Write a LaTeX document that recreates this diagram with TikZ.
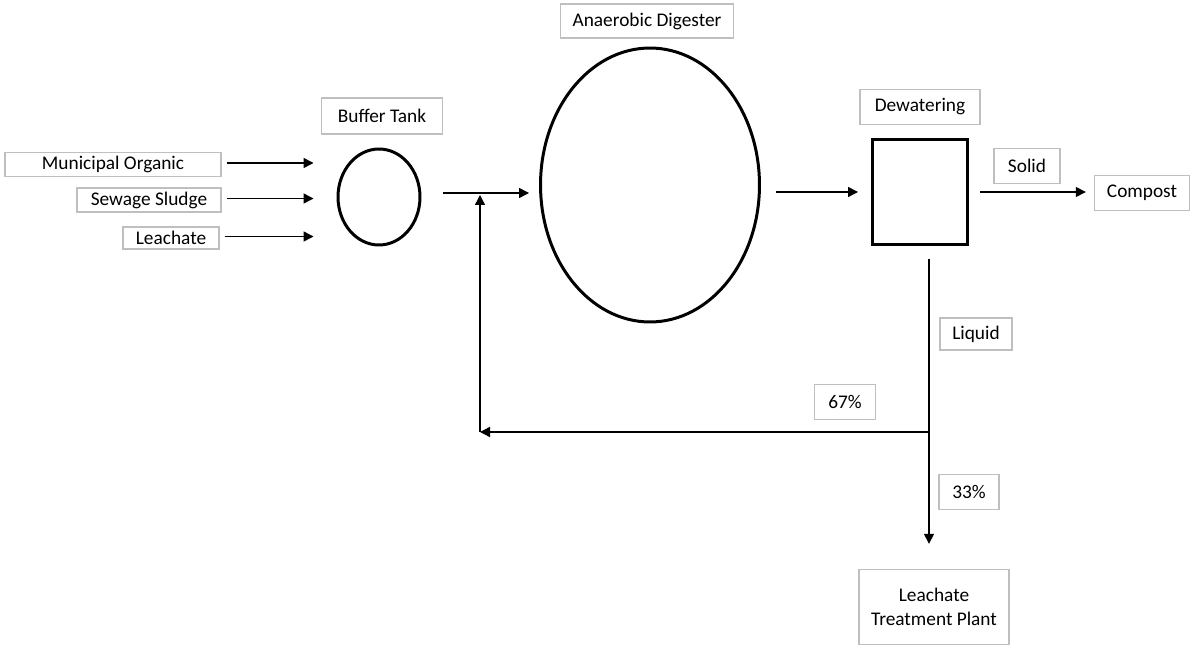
\documentclass[tikz,border=0pt]{standalone}
\usepackage{fontspec}
\setmainfont{Carlito}
\usetikzlibrary{arrows.meta}
\usetikzlibrary{shapes.geometric}

\begin{document}
\begin{tikzpicture}[x=0.02cm,y=-0.02cm,
    tag/.style={draw=gray!50,line width=0.8pt,inner sep=0pt,align=center,font=\fontsize{11}{14}\selectfont},
    unit/.style={draw,line width=1.7pt,inner sep=0pt},
    flow/.style={line width=0.8pt,-{Triangle[length=0.2cm,width=0.2cm]}}]
    \useasboundingbox (0,0) rectangle (1191,648);
    % process units
    \node[unit,ellipse,minimum width=1.64cm,minimum height=1.92cm] (tank) at (379,197) {};
    \node[unit,ellipse,minimum width=4.38cm,minimum height=5.48cm] (dig) at (650,185) {};
    \node[unit,rectangle,minimum width=1.9cm,minimum height=2.1cm] (dew) at (920,192) {};
    % labels
    \node[tag,minimum width=4.32cm,minimum height=0.48cm] (mo) at (113,164.5) {Municipal Organic};
    \node[tag,minimum width=2.88cm,minimum height=0.48cm] (ss) at (149,200) {Sewage Sludge};
    \node[tag,minimum width=1.92cm,minimum height=0.44cm] (lc) at (171,238) {Leachate};
    \node[tag,minimum width=2.42cm,minimum height=0.72cm] (tankl) at (382,116) {Buffer Tank};
    \node[tag,minimum width=3.46cm,minimum height=0.68cm] (digl) at (647,21) {Anaerobic Digester};
    \node[tag,minimum width=2.4cm,minimum height=0.7cm] (dewl) at (920,107) {Dewatering};
    \node[tag,minimum width=1.32cm,minimum height=0.7cm] (solid) at (1027,166) {Solid};
    \node[tag,minimum width=1.9cm,minimum height=0.7cm] (comp) at (1142,193) {Compost};
    \node[tag,minimum width=1.44cm,minimum height=0.64cm] (liq) at (976,334) {Liquid};
    \node[tag,minimum width=1.22cm,minimum height=0.7cm] (p67) at (845,402) {67\%};
    \node[tag,minimum width=1.2cm,minimum height=0.7cm] (p33) at (969,492) {33\%};
    \node[tag,minimum width=3cm,minimum height=1.5cm] (ltp) at (934,607) {Leachate\\Treatment Plant};
    % junctions
    \coordinate (mix) at (480,193);
    \coordinate (split) at (929,432);
    % feeds
    \foreach \src in {mo,ss,lc}{
        \draw[flow,shorten <=0.1cm,shorten >=0.46cm] ([yshift=0.03cm]\src.east) -- ([yshift=0.03cm]\src.east -| tank.west);
    }
    \draw[flow,shorten <=0.44cm,shorten >=0.2cm] (tank.east |- mix) -- (mix -| dig.west);
    \draw[flow,shorten <=0.3cm,shorten >=0.26cm] (dew.west -| dig.east) -- (dew.west);
    \draw[flow,shorten <=0.22cm,shorten >=0.16cm] (dew.east) -- (dew.east -| comp.west);
    % liquid split
    \draw[flow,shorten <=0.26cm,shorten >=0.5cm] (split |- dew.south) -- (split |- ltp.north);
    \draw[flow] (split) -- (split -| mix);
    \draw[flow,shorten >=0.04cm] (split -| mix) -- (mix);
\end{tikzpicture}
\end{document}
